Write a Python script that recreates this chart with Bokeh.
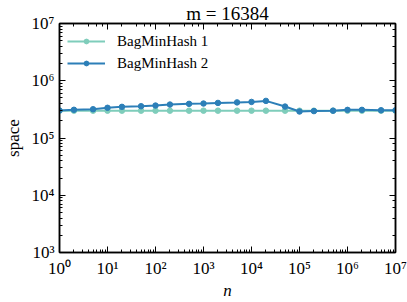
from bokeh.plotting import figure
from bokeh.models import (LogAxis, LogTicker, Legend, LegendItem, Range1d,
                          CustomJSTickFormatter)
from bokeh.embed import file_html
from bokeh.resources import INLINE

# data
n_values = [1, 2, 5, 10, 20, 50, 100, 200, 500, 1e3, 2e3, 5e3, 1e4, 2e4, 5e4,
            1e5, 2e5, 5e5, 1e6, 2e6, 5e6, 1e7]
bmh1 = [3.0e5, 3.0e5, 3.0e5, 3.0e5, 3.0e5, 3.0e5, 3.0e5, 3.0e5, 3.0e5, 3.0e5,
        3.0e5, 3.0e5, 3.0e5, 3.0e5, 3.0e5, 3.0e5, 3.0e5, 3.0e5, 3.0e5, 3.0e5,
        3.0e5, 3.0e5]
bmh2 = [3.02e5, 3.11e5, 3.18e5, 3.37e5, 3.50e5, 3.59e5, 3.69e5, 3.84e5, 3.95e5,
        4.0e5, 4.1e5, 4.19e5, 4.27e5, 4.45e5, 3.54e5, 2.9e5, 2.95e5, 3.0e5,
        3.1e5, 3.1e5, 3.05e5, 3.05e5]
series_names = ["BagMinHash 1", "BagMinHash 2"]
series_colors = ["#7fcdbb", "#2c7fb8"]
title_text = "m = 16384"
x_label = "n"
y_label = "space"
x_lim = (1, 1e7)
y_lim = (1e3, 1e7)

FONT = "Liberation Serif"

p = figure(width=407, height=302, x_axis_type="log", y_axis_type="log",
           x_range=Range1d(*x_lim), y_range=Range1d(*y_lim),
           output_backend="svg", toolbar_location=None,
           min_border_left=57, min_border_right=12, min_border_top=22,
           min_border_bottom=50, title=title_text)
p.title.text_font = FONT
p.title.text_font_size = "19px"
p.title.text_font_style = "normal"
p.title.align = "center"
p.title.text_color = "black"
p.title.standoff = 0
p.title.offset = 0

p.xgrid.visible = False
p.ygrid.visible = False
p.outline_line_color = "black"
p.outline_line_width = 1.5
p.background_fill_color = "white"
p.border_fill_color = "white"

pow10 = CustomJSTickFormatter(code="""
const sup = ['\u2070','\u00b9','\u00b2','\u00b3','\u2074','\u2075','\u2076','\u2077','\u2078','\u2079'];
const e = Math.round(Math.log10(tick));
return '10' + String(e).split('').map(c => sup[+c]).join('');
""")
blank = CustomJSTickFormatter(code="return ''")

bottom = p.below[0]
left = p.left[0]
bottom.formatter = pow10
left.formatter = pow10

right = LogAxis(ticker=LogTicker(), formatter=blank)
top = LogAxis(ticker=LogTicker(), formatter=blank)
p.add_layout(right, "right")
p.add_layout(top, "above")

for ax in (bottom, left, right, top):
    ax.major_tick_in = 6
    ax.major_tick_out = 0
    ax.minor_tick_in = 3
    ax.minor_tick_out = 0
    ax.axis_line_width = 1.5
    ax.axis_line_color = "black"
    ax.major_tick_line_color = "black"
    ax.minor_tick_line_color = "black"
    ax.major_label_text_font = FONT
    ax.major_label_text_font_size = "17px"
    ax.major_label_text_color = "black"
    ax.major_label_standoff = 5
    ax.axis_label_text_font = FONT
    ax.axis_label_text_font_size = "17px"
    ax.axis_label_text_color = "black"
    ax.axis_label_text_font_style = "normal"

for ax in (right, top):
    ax.major_label_standoff = 0

bottom.major_label_standoff = 6
bottom.axis_label_standoff = 0
left.axis_label_standoff = 6

bottom.axis_label = x_label
bottom.axis_label_text_font_style = "italic"
left.axis_label = y_label

items = []
for ys, name, col in zip([bmh1, bmh2], series_names, series_colors):
    l = p.line(n_values, ys, line_color=col, line_width=2)
    s = p.scatter(n_values, ys, marker="circle", size=5.5, fill_color=col,
                  line_color=col)
    items.append(LegendItem(label=name, renderers=[l, s]))

legend = Legend(items=items, location="top_left", border_line_color=None,
                background_fill_alpha=0, margin=8, padding=2, spacing=2,
                glyph_width=38, glyph_height=12, label_height=20,
                label_standoff=12, label_text_font=FONT,
                label_text_font_size="15px", label_text_color="black")
p.add_layout(legend, "center")

open("out.html", "w").write(file_html(p, INLINE))
